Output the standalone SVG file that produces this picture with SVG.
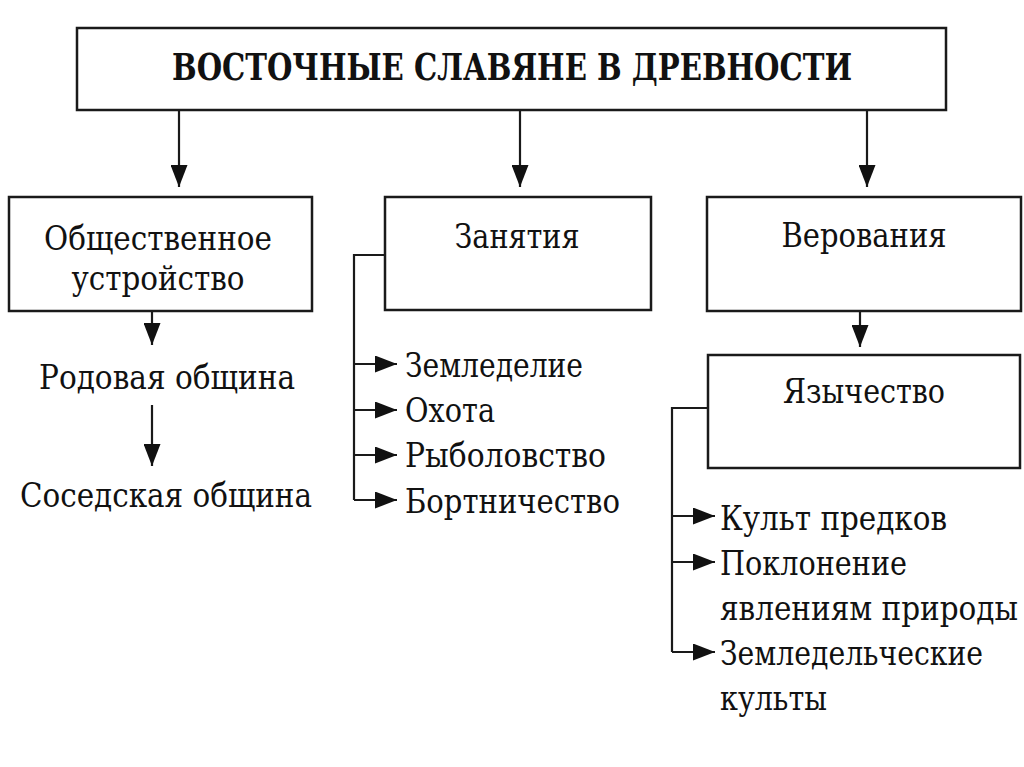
<svg xmlns="http://www.w3.org/2000/svg" width="1024" height="767" viewBox="0 0 1024 767">
<defs>
<style>
.box{fill:#fff;stroke:#1a1a1a;stroke-width:2.5}
.ln{fill:none;stroke:#1a1a1a;stroke-width:2.2}
.t{font-size:34px;fill:#111}
.c{text-anchor:middle}
.title{font-size:38px;font-weight:bold;fill:#111;text-anchor:middle}
</style>
<marker id="ah" viewBox="0 0 22 17" refX="22" refY="8.5" markerWidth="22" markerHeight="17" markerUnits="userSpaceOnUse" orient="auto">
<path d="M0,0 L22,8.5 L0,17 Z" fill="#111"/>
</marker>
</defs>
<rect width="1024" height="767" fill="#fff"/>

<g id="connectors">
<path class="ln" d="M179,110 V187" marker-end="url(#ah)"/>
<path class="ln" d="M520,110 V187" marker-end="url(#ah)"/>
<path class="ln" d="M867,110 V187" marker-end="url(#ah)"/>
<path class="ln" d="M152,312 V345" marker-end="url(#ah)"/>
<path class="ln" d="M152,405 V466" marker-end="url(#ah)"/>
<path class="ln" d="M860,311 V347" marker-end="url(#ah)"/>
<path class="ln" d="M385,255 H354 V500"/>
<path class="ln" d="M354,364 H397" marker-end="url(#ah)"/>
<path class="ln" d="M354,410 H397" marker-end="url(#ah)"/>
<path class="ln" d="M354,455 H397" marker-end="url(#ah)"/>
<path class="ln" d="M354,500 H397" marker-end="url(#ah)"/>
<path class="ln" d="M708,408 H672 V652"/>
<path class="ln" d="M672,516 H715" marker-end="url(#ah)"/>
<path class="ln" d="M672,562 H715" marker-end="url(#ah)"/>
<path class="ln" d="M672,652 H715" marker-end="url(#ah)"/>
</g>

<g font-family="DejaVu Serif Condensed, DejaVu Serif, serif">
<g id="root">
<rect class="box" x="77" y="28" width="869" height="82"/>
<text class="title" x="512" y="80" textLength="680" lengthAdjust="spacingAndGlyphs">ВОСТОЧНЫЕ СЛАВЯНЕ В ДРЕВНОСТИ</text>
</g>

<g id="obshchestvennoe">
<rect class="box" x="9" y="197" width="303" height="114"/>
<text class="t c" x="158" y="250" textLength="228" lengthAdjust="spacingAndGlyphs">Общественное</text>
<text class="t c" x="158" y="290" textLength="173" lengthAdjust="spacingAndGlyphs">устройство</text>
</g>

<g id="rodovaya">
<text class="t c" x="167" y="389" textLength="256" lengthAdjust="spacingAndGlyphs">Родовая община</text>
</g>

<g id="sosedskaya">
<text class="t c" x="166" y="507" textLength="292" lengthAdjust="spacingAndGlyphs">Соседская община</text>
</g>

<g id="zanyatiya">
<rect class="box" x="385" y="197" width="266" height="113"/>
<text class="t c" x="517" y="248" textLength="125" lengthAdjust="spacingAndGlyphs">Занятия</text>
</g>

<g id="zemledelie"><text class="t" x="405" y="377" textLength="178" lengthAdjust="spacingAndGlyphs">Земледелие</text></g>
<g id="ohota"><text class="t" x="405" y="422" textLength="90" lengthAdjust="spacingAndGlyphs">Охота</text></g>
<g id="rybolovstvo"><text class="t" x="405" y="467" textLength="201" lengthAdjust="spacingAndGlyphs">Рыболовство</text></g>
<g id="bortnichestvo"><text class="t" x="405" y="513" textLength="215" lengthAdjust="spacingAndGlyphs">Бортничество</text></g>

<g id="verovaniya">
<rect class="box" x="707" y="197" width="314" height="114"/>
<text class="t c" x="864" y="247" textLength="165" lengthAdjust="spacingAndGlyphs">Верования</text>
</g>

<g id="yazychestvo">
<rect class="box" x="708" y="355" width="312" height="113"/>
<text class="t c" x="864" y="403" textLength="162" lengthAdjust="spacingAndGlyphs">Язычество</text>
</g>

<g id="kult-predkov"><text class="t" x="720" y="530" textLength="227" lengthAdjust="spacingAndGlyphs">Культ предков</text></g>
<g id="poklonenie">
<text class="t" x="720" y="575" textLength="187" lengthAdjust="spacingAndGlyphs">Поклонение</text>
<text class="t" x="720" y="620" textLength="298" lengthAdjust="spacingAndGlyphs">явлениям природы</text>
</g>
<g id="zemledelcheskie">
<text class="t" x="720" y="665" textLength="263" lengthAdjust="spacingAndGlyphs">Земледельческие</text>
<text class="t" x="720" y="710" textLength="107" lengthAdjust="spacingAndGlyphs">культы</text>
</g>
</g>
</svg>
